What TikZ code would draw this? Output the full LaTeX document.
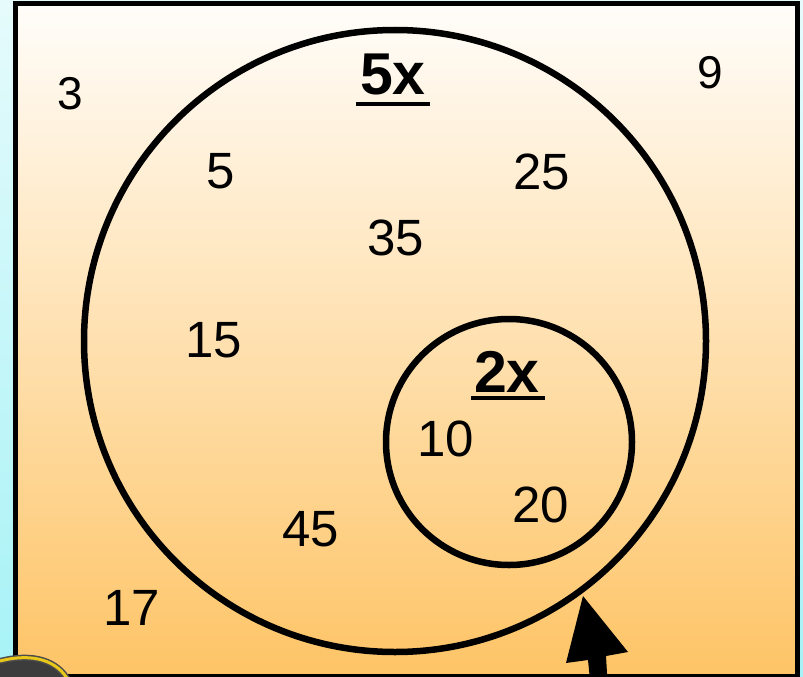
\documentclass[tikz,border=0pt]{standalone}
\usepackage{fontspec}
\setmainfont{Liberation Sans}
\definecolor{cyantop}{HTML}{E6FBFC}
\definecolor{cyanbot}{HTML}{A6F2F6}
\definecolor{boxtop}{HTML}{FFFDFA}
\definecolor{boxmid}{HTML}{FDDDAE}
\definecolor{boxbot}{HTML}{FEC466}
\definecolor{rimyellow}{HTML}{E9C81A}
\definecolor{blobgrey}{HTML}{3C3C3C}
\begin{document}
\begin{tikzpicture}[x=1pt,y=-1pt,
  num/.style={font=\fontsize{51}{60}\selectfont, inner sep=0pt},
  numsmall/.style={font=\fontsize{46}{54}\selectfont, inner sep=0pt},
  head/.style={font=\fontsize{59}{68}\selectfont\bfseries, inner sep=0pt, anchor=base},
  ring/.style={circle, draw, line width=6.5pt, inner sep=0pt},
  uline/.style={line width=3.2pt}]
\useasboundingbox (0,0) rectangle (803,677);
\shade[top color=cyantop, bottom color=cyanbot] (0,0) rectangle (803,677);
\shade[top color=boxtop, middle color=boxmid, bottom color=boxbot] (15,4) rectangle (797,676);
\draw[line width=5pt] (15,4) rectangle (797,676);
% circles
\node[ring, minimum size=622pt] (big) at (395,341) {};
\node[ring, minimum size=246pt] (small) at (509,442) {};
% headings
\node[head] (h5) at (393,94) {5x};
\draw[uline] (356,104) -- (430,104);
\node[head] (h2) at (507,392) {2x};
\draw[uline] (471,398) -- (545,398);
% numbers
\node[numsmall] (n3) at (70,94) {3};
\node[numsmall] (n9) at (710,73) {9};
\node[num] (n5) at (221,171) {5};
\node[num] (n25) at (542,172) {25};
\node[num] (n35) at (396,238) {35};
\node[num] (n15) at (214,340) {15};
\node[num] (n10) at (446,439) {10};
\node[num] (n20) at (541,505) {20};
\node[num] (n45) at (311,529) {45};
\node[num] (n17) at (132,608) {17};
% arrow
\coordinate (tip) at (583,596);
\fill (tip) -- (628,652) -- (606,656) -- (608,690) -- (591,690) -- (588,660) -- (566,663) -- cycle;
% bottom-left object
\fill[blobgrey] (0,661) .. controls (35,652) and (58,662) .. (68,680) -- (0,680) -- cycle;
\draw[black!70, line width=6pt] (0,661) .. controls (35,652) and (58,662) .. (68,680);
\draw[rimyellow, line width=3pt] (0,661) .. controls (35,652) and (58,662) .. (68,680);
\end{tikzpicture}
\end{document}
